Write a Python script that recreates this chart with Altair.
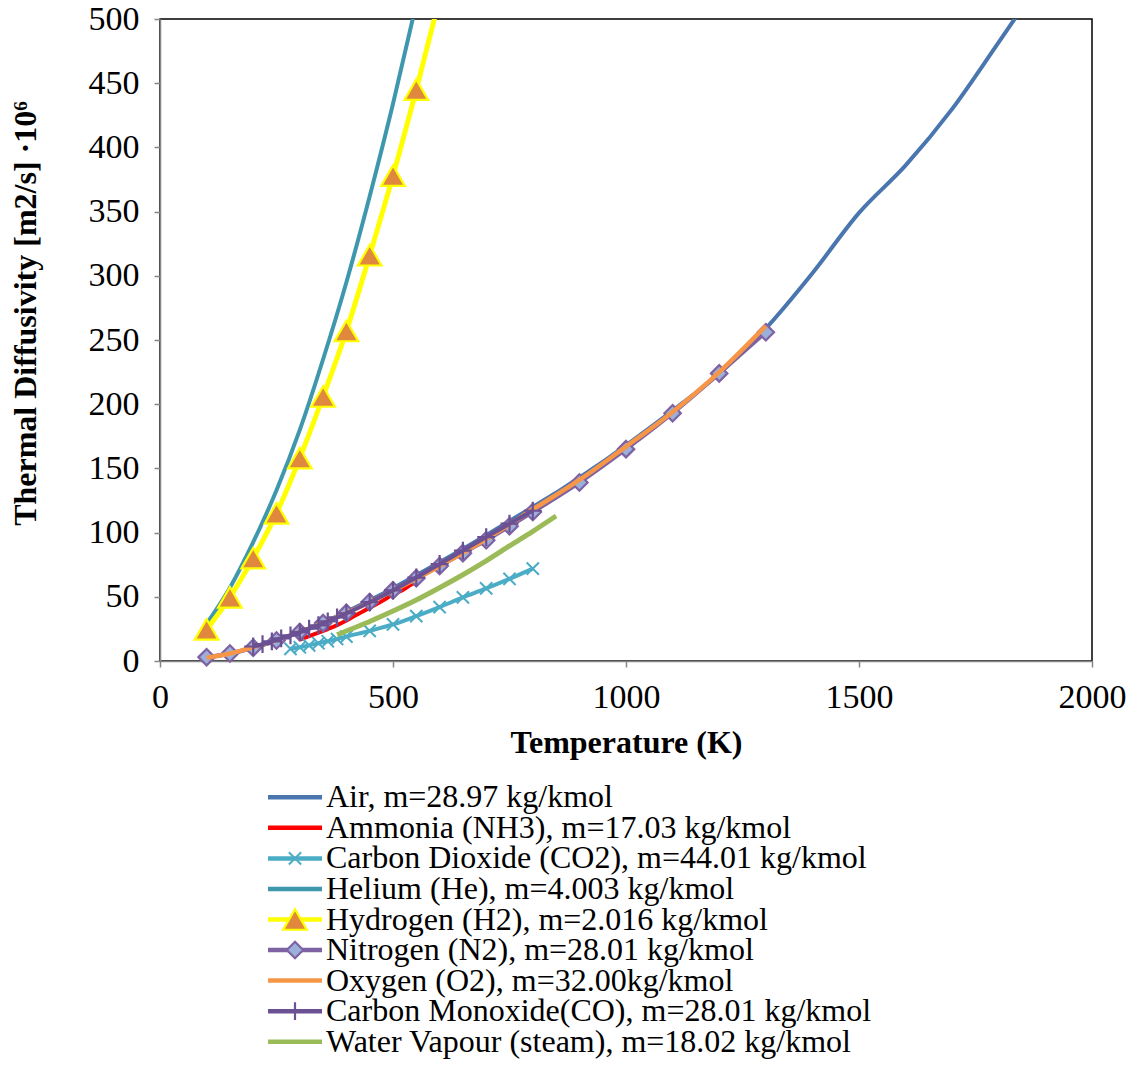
import altair as alt
import pandas as pd

FONT = "Liberation Serif"

# ---------------- data ----------------
air_T = [100, 150, 200, 250, 300, 350, 400, 450, 500, 550, 600, 650, 700, 750, 800, 850, 900, 950,
         1000, 1100, 1200, 1300, 1400, 1500, 1600, 1700, 1800, 1900]
air_v = [2.5, 5.8, 10.3, 15.9, 22.5, 29.9, 38.3, 47.2, 56.7, 66.7, 76.9, 87.3, 98.0, 109, 120, 131, 143, 155,
         168, 195, 224, 259, 302, 349, 386, 430, 482, 535]

nh3_T = [300, 320, 340, 360, 380, 400, 420, 440, 460, 480, 500, 520, 540, 560]
nh3_v = [16.6, 19.4, 22.1, 24.9, 27.9, 31.5, 35.6, 39.6, 43.4, 47.4, 51.9, 55.2, 59.7, 63.4]

co2_T = [280, 300, 320, 340, 360, 380, 400, 450, 500, 550, 600, 650, 700, 750, 800]
co2_v = [9.5, 10.7, 12.2, 13.8, 15.4, 17.1, 19.0, 23.5, 28.5, 35.0, 42.0, 49.5, 56.5, 64.0, 72.0]

he_T = [100, 150, 200, 250, 300, 350, 400, 450, 500, 550]
he_v = [28.9, 57, 92.5, 133, 180, 235, 295, 362, 434, 512]

h2_T = [100, 150, 200, 250, 300, 350, 400, 450, 500, 550, 600]
h2_v = [24.6, 49.6, 80.1, 115, 158, 206, 257, 316, 378, 445, 516]

n2_T = [100, 150, 200, 250, 300, 350, 400, 450, 500, 550, 600, 650, 700, 750, 800,
        900, 1000, 1100, 1200, 1300]
n2_v = [3.0, 5.8, 10.3, 16.0, 22.5, 29.5, 37.5, 46.0, 55.0, 64.5, 74.0, 84.0, 94.0, 105, 116,
        139, 165, 193, 224, 256]

o2_T = [100, 150, 200, 250, 300, 350, 400, 450, 500, 550, 600, 700, 800, 900, 1000, 1100, 1200, 1300]
o2_v = [2.6, 5.8, 10.7, 16.3, 22.7, 29.6, 37.3, 45.7, 54.7, 64.0, 74.0, 95.0, 118, 141, 167, 194, 225, 261]

co_T = [200, 220, 240, 260, 280, 300, 320, 340, 360, 380, 400, 450, 500, 550, 600, 650, 700, 750, 800]
co_v = [11.3, 13.1, 15.3, 17.6, 20.0, 22.5, 25.2, 27.8, 30.8, 33.9, 37.2, 45.8, 55.0, 65.0, 75.5,
        86.0, 96.5, 107, 117]

h2o_T = [380, 400, 450, 500, 550, 600, 650, 700, 750, 800, 850]
h2o_v = [20.5, 23.4, 30.8, 38.9, 47.5, 57.1, 67.2, 78.0, 89.6, 101, 113]

names = [
    "Air, m=28.97 kg/kmol",
    "Ammonia (NH3), m=17.03 kg/kmol",
    "Carbon Dioxide (CO2), m=44.01 kg/kmol",
    "Helium (He), m=4.003 kg/kmol",
    "Hydrogen (H2), m=2.016 kg/kmol",
    "Nitrogen (N2), m=28.01 kg/kmol",
    "Oxygen (O2), m=32.00kg/kmol",
    "Carbon Monoxide(CO), m=28.01 kg/kmol",
    "Water Vapour (steam), m=18.02 kg/kmol",
]
colors = ["#4A76B0", "#FF0000", "#4BACC6", "#3F97AE", "#FFFF00", "#7E62A3", "#F79646", "#6B5194", "#9BBB59"]
widths = [4, 4, 4, 4, 5, 4, 4.5, 4, 5]
markers = [None, None, "x", None, "tri", "dia", None, "plus", None]

xs = [air_T, nh3_T, co2_T, he_T, h2_T, n2_T, o2_T, co_T, h2o_T]
ys = [air_v, nh3_v, co2_v, he_v, h2_v, n2_v, o2_v, co_v, h2o_v]

X_PATH = "M-1,-1L1,1M-1,1L1,-1"
PLUS_PATH = "M0,-1L0,1M-1,0L1,0"

xscale = alt.Scale(domain=[0, 2000], nice=False, zero=False)
yscale = alt.Scale(domain=[0, 500], nice=False, zero=False)

xaxis = alt.Axis(values=[0, 500, 1000, 1500, 2000], format="d", title="Temperature (K)",
                 labelPadding=13, titlePadding=13, labelFlush=False)
yaxis = alt.Axis(values=list(range(0, 501, 50)), format="d", title="Thermal Diffusivity [m2/s] ·10⁶",
                 labelPadding=15, labelFlush=False, titleX=-135, titleY=294, titleAngle=-90,
                 titleAlign="center", titleBaseline="middle")

X = alt.X("T:Q", scale=xscale, axis=xaxis)
Y = alt.Y("v:Q", scale=yscale, axis=yaxis)

layers = []
for i, name in enumerate(names):
    df = pd.DataFrame({"T": xs[i], "v": ys[i]})
    layers.append(alt.Chart(df).mark_line(color=colors[i], strokeWidth=widths[i], interpolate="monotone",
                                          clip=True).encode(x=X, y=Y))
    mk = markers[i]
    if mk is not None:
        mdf = df[df["v"] <= 500]
        base = alt.Chart(mdf)
        if mk == "x":
            m = base.mark_point(shape=X_PATH, size=150, filled=False, stroke=colors[i], strokeWidth=2, opacity=1)
        elif mk == "plus":
            m = base.mark_point(shape=PLUS_PATH, size=320, filled=False, stroke=colors[i], strokeWidth=2.2, opacity=1)
        elif mk == "tri":
            m = base.mark_point(shape="triangle-up", size=560, filled=True, fill="#E0883E", stroke="#FFFF00",
                                strokeWidth=2.2, opacity=1)
        else:
            m = base.mark_point(shape="diamond", size=270, filled=True, fill="#9AAFD9", stroke="#7E62A3",
                                strokeWidth=2.2, opacity=1)
        layers.append(m.encode(x=X, y=Y))

main = alt.layer(*layers).properties(width=932, height=642,
                                      view=alt.ViewBackground(stroke="black", strokeWidth=1.5))

# ---------------- legend ----------------
leg_df = pd.DataFrame({"name": names, "marker": [m if m else "none" for m in markers]})
Yl = alt.Y("name:N", sort=names, axis=None, scale=alt.Scale(type="point", padding=0.5))
Cl = alt.Color("name:N", scale=alt.Scale(domain=names, range=colors), legend=None)

leg_rule = alt.Chart(leg_df).mark_rule(strokeWidth=4.5).encode(x=alt.value(108), x2=alt.value(162), y=Yl, color=Cl)
leg_x = alt.Chart(leg_df).transform_filter(alt.datum.marker == "x").mark_point(
    shape=X_PATH, size=150, filled=False, stroke="#4BACC6", strokeWidth=2, opacity=1).encode(x=alt.value(135), y=Yl)
leg_tri = alt.Chart(leg_df).transform_filter(alt.datum.marker == "tri").mark_point(
    shape="triangle-up", size=560, filled=True, fill="#E0883E", stroke="#FFFF00", strokeWidth=2.2, opacity=1
).encode(x=alt.value(135), y=Yl)
leg_dia = alt.Chart(leg_df).transform_filter(alt.datum.marker == "dia").mark_point(
    shape="diamond", size=270, filled=True, fill="#9AAFD9", stroke="#7E62A3", strokeWidth=2.2, opacity=1
).encode(x=alt.value(135), y=Yl)
leg_plus = alt.Chart(leg_df).transform_filter(alt.datum.marker == "plus").mark_point(
    shape=PLUS_PATH, size=320, filled=False, stroke="#6B5194", strokeWidth=2.2, opacity=1
).encode(x=alt.value(135), y=Yl)
leg_text = alt.Chart(leg_df).mark_text(align="left", baseline="middle", font=FONT, fontSize=32,
                                       color="black").encode(x=alt.value(166), y=Yl, text="name:N")

legend = alt.layer(leg_rule, leg_x, leg_tri, leg_dia, leg_plus, leg_text).properties(
    width=932, height=275, view=alt.ViewBackground(strokeOpacity=0))

chart = alt.vconcat(main, legend, spacing=22).properties(
    padding={"left": 8, "top": 1, "right": 2, "bottom": 2}
).configure(background="white").configure_axis(
    grid=False, domainColor="#868686", domainWidth=1.5, tickColor="#868686", tickWidth=1.5, tickSize=6,
    labelFont=FONT, labelFontSize=34, labelColor="black",
    titleFont=FONT, titleFontSize=32, titleFontWeight="bold", titleColor="black"
)

chart.save("out.html", embed_options={"renderer": "svg", "actions": False})
